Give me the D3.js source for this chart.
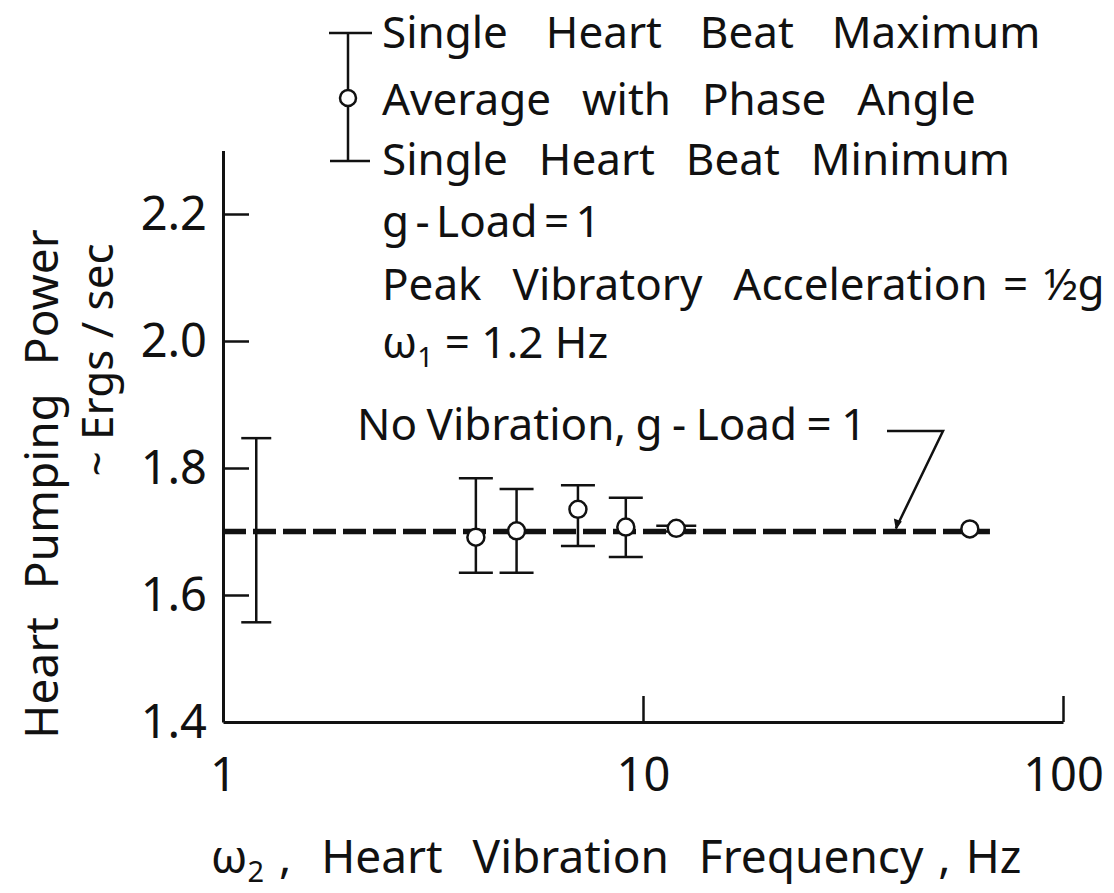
<!DOCTYPE html>
<html>
<head>
<meta charset="utf-8">
<script src="https://cdn.jsdelivr.net/npm/d3@7"></script>
<style>
  body { margin: 0; background: #fff; }
  svg text { font-family: "Noto Sans", sans-serif; fill: #111; }
</style>
</head>
<body>
<svg id="chart" width="1114" height="893"></svg>
<script>
// data
const freqHz   = [1.2, 4.0, 5.0, 7.0, 9.1, 12.0, 60.0];
const avgPower = [null, 1.691, 1.701, 1.735, 1.707, 1.705, 1.704];
const maxPower = [1.847, 1.784, 1.767, 1.773, 1.753, 1.709, null];
const minPower = [1.557, 1.635, 1.635, 1.677, 1.660, 1.700, null];

const noVibLevel = 1.7;
const noVibRange = [1, 67];
const leaderAt = 40;

const xTicks = [1, 10, 100];
const yTicks = [1.4, 1.6, 1.8, 2.0, 2.2];

const svg = d3.select("#chart");
const ink = "#111";

const x = d3.scaleLog().domain([1, 100]).range([223, 1063]);
const y = d3.scaleLinear().domain([1.4, 2.3]).range([722, 150.5]);

// axes
const xAxis = d3.axisBottom(x)
    .tickValues(xTicks)
    .tickFormat(d3.format("d"))
    .tickSizeInner(-26)
    .tickSizeOuter(0)
    .tickPadding(36);

const yAxis = d3.axisLeft(y)
    .tickValues(yTicks)
    .tickFormat(d3.format(".1f"))
    .tickSizeInner(-26)
    .tickSizeOuter(0)
    .tickPadding(16);

const gx = svg.append("g").attr("transform", `translate(0,${y(1.4)})`).call(xAxis);
const gy = svg.append("g").attr("transform", `translate(${x(1)},0)`).call(yAxis);

[gx, gy].forEach(g => {
    g.select(".domain").attr("stroke", ink).attr("stroke-width", 3);
    g.selectAll(".tick line").attr("stroke", ink).attr("stroke-width", 2.5);
    g.selectAll(".tick text").attr("font-size", 47).attr("fill", ink)
        .style("font-family", "'Noto Sans', sans-serif");
});
gx.selectAll(".tick").filter(d => d === 1).select("line").remove();
gy.selectAll(".tick").filter(d => d === 1.4).select("line").remove();

// no-vibration reference line
svg.append("line")
    .attr("x1", x(noVibRange[0])).attr("x2", x(noVibRange[1]))
    .attr("y1", y(noVibLevel)).attr("y2", y(noVibLevel))
    .attr("stroke", ink).attr("stroke-width", 5.5)
    .attr("stroke-dasharray", "23 7");

// error bars
const pts = freqHz.map((f, i) => ({f, avg: avgPower[i], hi: maxPower[i], lo: minPower[i]}));
const bars = pts.filter(d => d.hi !== null);
const capW = d => d.f > 10 ? 20 : (d.f < 2 ? 15 : 17);

const gb = svg.append("g").attr("stroke", ink).attr("stroke-width", 2.5);
gb.selectAll("line.v").data(bars).join("line")
    .attr("class", "v")
    .attr("x1", d => x(d.f)).attr("x2", d => x(d.f))
    .attr("y1", d => y(d.hi)).attr("y2", d => y(d.lo));
gb.selectAll("line.hi").data(bars).join("line")
    .attr("class", "hi")
    .attr("x1", d => x(d.f) - capW(d)).attr("x2", d => x(d.f) + capW(d))
    .attr("y1", d => y(d.hi)).attr("y2", d => y(d.hi));
gb.selectAll("line.lo").data(bars).join("line")
    .attr("class", "lo")
    .attr("x1", d => x(d.f) - capW(d)).attr("x2", d => x(d.f) + capW(d))
    .attr("y1", d => y(d.lo)).attr("y2", d => y(d.lo));

// averages
svg.append("g").selectAll("circle")
    .data(pts.filter(d => d.avg !== null))
    .join("circle")
    .attr("cx", d => x(d.f))
    .attr("cy", d => y(d.avg))
    .attr("r", 8.5)
    .attr("fill", "#fff")
    .attr("stroke", ink)
    .attr("stroke-width", 2.5);

// annotation for the reference line
svg.append("text")
    .attr("x", 357).attr("y", 440)
    .attr("font-size", 44)
    .attr("word-spacing", -2)
    .text("No Vibration, g - Load = 1");
svg.append("path")
    .attr("d", `M887,431 L943,431 L${x(leaderAt)},${y(noVibLevel) - 3}`)
    .attr("fill", "none").attr("stroke", ink).attr("stroke-width", 2.5);
svg.append("path")
    .attr("d", `M${x(leaderAt)},${y(noVibLevel) - 2} l-2,-11 l8,3 z`)
    .attr("fill", ink);

// legend
const lg = svg.append("g").attr("stroke", ink).attr("stroke-width", 2.5);
lg.append("line").attr("x1", 348).attr("x2", 348).attr("y1", 33).attr("y2", 161);
lg.append("line").attr("x1", 329).attr("x2", 372).attr("y1", 33).attr("y2", 33);
lg.append("line").attr("x1", 330).attr("x2", 370).attr("y1", 161).attr("y2", 161);
lg.append("circle").attr("cx", 348).attr("cy", 98).attr("r", 8).attr("fill", "#fff");

const legendLines = [
    {t: "Single  Heart  Beat  Maximum", y: 48, ws: 7.5},
    {t: "Average  with  Phase  Angle", y: 115, ws: 4},
    {t: "Single  Heart  Beat  Minimum", y: 175, ws: 4},
    {t: "g - Load = 1", y: 237, ws: -5},
    {t: "Peak  Vibratory  Acceleration = \u00BDg", y: 300, ws: 4}
];
svg.append("g").selectAll("text").data(legendLines).join("text")
    .attr("x", 382).attr("y", d => d.y)
    .attr("font-size", 44)
    .attr("word-spacing", d => d.ws)
    .style("white-space", "pre")
    .text(d => d.t);

const w1 = svg.append("text").attr("x", 382).attr("y", 358).attr("font-size", 44);
w1.append("tspan").text("\u03C9");
w1.append("tspan").attr("font-size", 28).attr("dy", 9).text("1");
w1.append("tspan").attr("dy", -9).text(" = 1.2 Hz");

// axis titles
const xt = svg.append("text").attr("x", 616).attr("y", 873)
    .attr("text-anchor", "middle").attr("font-size", 46)
    .attr("word-spacing", 3)
    .style("white-space", "pre");
xt.append("tspan").text("\u03C9");
xt.append("tspan").attr("font-size", 29).attr("dy", 9).text("2");
xt.append("tspan").attr("dy", -9).text(" ,  Heart  Vibration  Frequency , Hz");

svg.append("text")
    .attr("transform", "translate(58,484) rotate(-90)")
    .attr("text-anchor", "middle").attr("font-size", 46)
    .attr("word-spacing", 2)
    .style("white-space", "pre")
    .text("Heart  Pumping  Power");
svg.append("text")
    .attr("transform", "translate(113,360) rotate(-90)")
    .attr("text-anchor", "middle").attr("font-size", 44)
    .style("white-space", "pre")
    .text("~ Ergs / sec");
</script>
</body>
</html>
